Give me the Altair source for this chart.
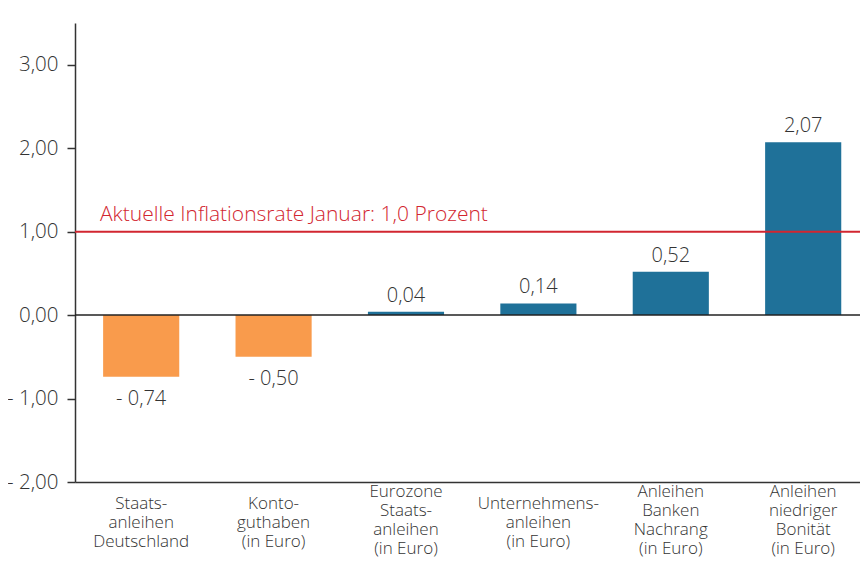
import altair as alt
import pandas as pd

categories = [
    "Staats-|anleihen|Deutschland",
    "Konto-|guthaben|(in Euro)",
    "Eurozone|Staats-|anleihen|(in Euro)",
    "Unternehmens-|anleihen|(in Euro)",
    "Anleihen|Banken|Nachrang|(in Euro)",
    "Anleihen|niedriger|Bonität|(in Euro)",
]
values = [-0.74, -0.50, 0.04, 0.14, 0.52, 2.07]
inflation = 1.0
inflation_label = "Aktuelle Inflationsrate Januar: 1,0 Prozent"
y_ticks = [-2, -1, 0, 1, 2, 3]

ORANGE = "#F99B4C"
BLUE = "#1F7199"
RED = "#D22630"
TXT = "#333333"
FONT = "Open Sans"
W = 300

WID = 785
H = 459


def fmt(v):
    s = f"{abs(v):.2f}".replace(".", ",")
    return ("- " + s) if v < 0 else s


df = pd.DataFrame({
    "cat": categories,
    "value": values,
    "label": [fmt(v) for v in values],
    "color": [ORANGE if v < 0 else BLUE for v in values],
    "nlines": [len(c.split("|")) for c in categories],
})

yscale = alt.Scale(domain=[-2, 3.5], nice=False, zero=False)
xscale = alt.Scale(paddingInner=0.425, paddingOuter=0.177, align=0.6)
xenc = alt.X("cat:N", sort=categories, scale=xscale, title=None)

ylab = ("datum.value < 0 ? '- ' + replace(format(abs(datum.value), '.2f'), '.', ',') "
        ": replace(format(datum.value, '.2f'), '.', ',')")

base = alt.Chart(df)

bars = base.mark_bar().encode(
    x=alt.X("cat:N", sort=categories, scale=xscale, title=None,
            axis=alt.Axis(labels=False, ticks=False,
                          domainColor="#333333", domainWidth=1.5)),
    y=alt.Y("value:Q", scale=yscale, title=None,
            axis=alt.Axis(values=y_ticks, labelExpr=ylab, grid=False,
                          tickSize=8, tickColor="#333333", tickWidth=1.5,
                          domainColor="#333333", domainWidth=1.5,
                          labelFontSize=20.5, labelColor=TXT, labelFont=FONT,
                          labelFontWeight=W, labelPadding=9)),
    color=alt.Color("color:N", scale=None),
)

xl3 = base.transform_filter("datum.nlines == 3").mark_text(
    lineBreak="|", baseline="middle", fontSize=17, lineHeight=19,
    color=TXT, font=FONT, fontWeight=W, dy=22
).encode(x=xenc, y=alt.value(H), text="cat:N")

xl4 = base.transform_filter("datum.nlines == 4").mark_text(
    lineBreak="|", baseline="middle", fontSize=17, lineHeight=19,
    color=TXT, font=FONT, fontWeight=W, dy=9.5
).encode(x=xenc, y=alt.value(H), text="cat:N")

txt_pos = base.transform_filter("datum.value >= 0").mark_text(
    baseline="alphabetic", dy=-10, fontSize=20, color=TXT, font=FONT, fontWeight=W
).encode(x=xenc, y=alt.Y("value:Q", scale=yscale), text="label:N")

txt_neg = base.transform_filter("datum.value < 0").mark_text(
    baseline="alphabetic", dy=28, fontSize=20, color=TXT, font=FONT, fontWeight=W
).encode(x=xenc, y=alt.Y("value:Q", scale=yscale), text="label:N")

zero = alt.Chart(pd.DataFrame({"y": [0]})).mark_rule(
    color="#222222", strokeWidth=1.5
).encode(y=alt.Y("y:Q", scale=yscale))

infl_df = pd.DataFrame({"y": [inflation], "t": [inflation_label]})
infl_rule = alt.Chart(infl_df).mark_rule(color=RED, strokeWidth=2).encode(
    y=alt.Y("y:Q", scale=yscale)
)
infl_text = alt.Chart(infl_df).mark_text(
    align="left", baseline="bottom", dy=-7, fontSize=21, color=RED,
    font=FONT, fontWeight=W
).encode(y=alt.Y("y:Q", scale=yscale), x=alt.value(25), text="t:N")

chart = alt.layer(bars, zero, txt_pos, txt_neg, xl3, xl4, infl_rule, infl_text).properties(
    width=WID, height=H,
    autosize=alt.AutoSizeParams(type="none"),
    padding={"left": 67, "top": 15, "right": 0, "bottom": 75},
).configure_view(stroke=None)

chart.save("out.html", embed_options={"renderer": "svg", "actions": False})
